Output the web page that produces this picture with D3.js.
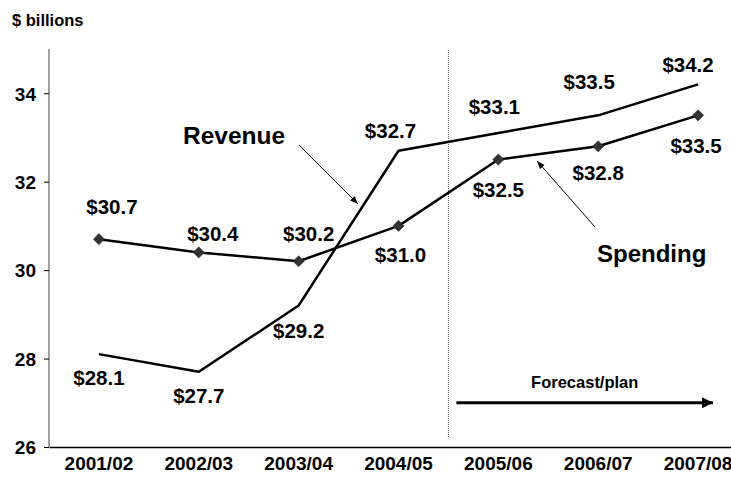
<!DOCTYPE html>
<html>
<head>
<meta charset="utf-8">
<script src="https://cdn.jsdelivr.net/npm/d3@7"></script>
<style>
  html, body { margin: 0; padding: 0; background: #fff; overflow: hidden; }
  svg { display: block; }
  svg text { font-family: "Liberation Sans", Arial, sans-serif; font-weight: bold; fill: #000; }
</style>
</head>
<body>
<div id="chart"></div>
<script>
// Data
const years = ['2001/02', '2002/03', '2003/04', '2004/05', '2005/06', '2006/07', '2007/08'];
const revenue = [28.1, 27.7, 29.2, 32.7, 33.1, 33.5, 34.2];
const spending = [30.7, 30.4, 30.2, 31.0, 32.5, 32.8, 33.5];
const yTicks = [26, 28, 30, 32, 34];
const forecastStart = '2005/06';

// Label nudges (px) relative to each point, as placed in the original
const revenueLabelOffset = [[0, 23], [0, 24], [0, 25], [-8, -20], [-4, -26], [-9, -34], [-10, -20]];
const spendingLabelOffset = [[13, -33], [14, -19], [10, -28], [2, 29], [0, 30], [0, 26], [-2, 30]];

const width = 731, height = 478;
const margin = { top: 49, right: -17, bottom: 31, left: 49 };
const innerWidth = width - margin.left - margin.right;
const innerHeight = height - margin.top - margin.bottom;

const svg = d3.select('#chart').append('svg')
    .attr('width', width)
    .attr('height', height);

svg.append('defs').call(defs => {
    defs.append('marker')
        .attr('id', 'thin-arrow')
        .attr('viewBox', '0 0 10 10')
        .attr('refX', 10).attr('refY', 5)
        .attr('markerWidth', 8).attr('markerHeight', 8)
        .attr('markerUnits', 'userSpaceOnUse')
        .attr('orient', 'auto')
        .append('path')
        .attr('d', 'M0,1 L10,5 L0,9 z')
        .attr('fill', '#000');
    defs.append('marker')
        .attr('id', 'thick-arrow')
        .attr('viewBox', '0 0 10 10')
        .attr('refX', 10).attr('refY', 5)
        .attr('markerWidth', 11).attr('markerHeight', 11)
        .attr('markerUnits', 'userSpaceOnUse')
        .attr('orient', 'auto')
        .append('path')
        .attr('d', 'M0,0 L10,5 L0,10 z')
        .attr('fill', '#000');
});

const g = svg.append('g').attr('transform', `translate(${margin.left},${margin.top})`);

// Scales
const x = d3.scaleBand().domain(years).range([0, innerWidth]).padding(0);
const cx = d => x(d) + x.bandwidth() / 2;
const y = d3.scaleLinear().domain([26, 35]).range([innerHeight, 0]);

// Y axis
g.append('g')
    .call(d3.axisLeft(y).tickValues(yTicks).tickSize(5).tickPadding(8).tickFormat(d3.format('d')))
    .attr('font-size', null).attr('font-family', null)
    .call(a => a.select('.domain').attr('d', `M0,0V${innerHeight}`).attr('stroke', '#444'))
    .call(a => a.selectAll('line').attr('stroke', '#000'))
    .call(a => a.selectAll('text').attr('font-size', 19).attr('dy', '0.36em'));

// X axis
g.append('g')
    .attr('transform', `translate(0,${innerHeight})`)
    .call(d3.axisBottom(x).tickSize(0).tickPadding(10))
    .attr('font-size', null).attr('font-family', null)
    .call(a => a.select('.domain').attr('stroke', '#000').attr('stroke-width', 1.5))
    .call(a => a.selectAll('text').attr('font-size', 19));

// Units label
svg.append('text')
    .attr('x', 12).attr('y', 26)
    .attr('font-size', 16.5)
    .text('$ billions');

// Forecast divider
const divX = x(forecastStart);
g.append('line')
    .attr('x1', divX).attr('x2', divX)
    .attr('y1', 1).attr('y2', innerHeight - 9)
    .attr('stroke', '#666')
    .attr('stroke-width', 1)
    .attr('stroke-dasharray', '1,1');

// Forecast arrow
const fy = y(27.0);
g.append('line')
    .attr('x1', divX + 8).attr('x2', cx(years[6]) + 15)
    .attr('y1', fy).attr('y2', fy)
    .attr('stroke', '#000')
    .attr('stroke-width', 3)
    .attr('marker-end', 'url(#thick-arrow)');
g.append('text')
    .attr('x', (divX + 8 + cx(years[6]) + 15) / 2)
    .attr('y', fy - 15)
    .attr('text-anchor', 'middle')
    .attr('font-size', 16.5)
    .text('Forecast/plan');

// Lines
const line = d3.line().x((d, i) => cx(years[i])).y(d => y(d));

g.append('path')
    .datum(revenue)
    .attr('d', line)
    .attr('fill', 'none')
    .attr('stroke', '#000')
    .attr('stroke-width', 2.5)
    .attr('stroke-linejoin', 'round');

g.append('path')
    .datum(spending)
    .attr('d', line)
    .attr('fill', 'none')
    .attr('stroke', '#000')
    .attr('stroke-width', 2.5)
    .attr('stroke-linejoin', 'round');

// Spending markers
g.selectAll('path.diamond')
    .data(spending)
    .join('path')
    .attr('class', 'diamond')
    .attr('d', d3.symbol(d3.symbolDiamond2, 80))
    .attr('transform', (d, i) => `translate(${cx(years[i])},${y(d)})`)
    .attr('fill', '#333')
    .attr('stroke', '#222')
    .attr('stroke-width', 0.5);

// Value labels
const fmt = d => '$' + d.toFixed(1);
function addLabels(values, offsets) {
    g.append('g').selectAll('text')
        .data(values)
        .join('text')
        .attr('x', (d, i) => cx(years[i]) + offsets[i][0])
        .attr('y', (d, i) => y(d) + offsets[i][1])
        .attr('dy', '0.36em')
        .attr('text-anchor', 'middle')
        .attr('font-size', 20.5)
        .text(fmt);
}
addLabels(revenue, revenueLabelOffset);
addLabels(spending, spendingLabelOffset);

// Series callouts
g.append('text')
    .attr('x', 183 - margin.left).attr('y', 144 - margin.top)
    .attr('font-size', 24.5)
    .text('Revenue');
g.append('line')
    .attr('x1', 299 - margin.left).attr('y1', 145 - margin.top)
    .attr('x2', 358 - margin.left).attr('y2', 204 - margin.top)
    .attr('stroke', '#000').attr('stroke-width', 1)
    .attr('marker-end', 'url(#thin-arrow)');

g.append('text')
    .attr('x', 597 - margin.left).attr('y', 262 - margin.top)
    .attr('font-size', 24)
    .text('Spending');
g.append('line')
    .attr('x1', 595 - margin.left).attr('y1', 227 - margin.top)
    .attr('x2', 537 - margin.left).attr('y2', 161 - margin.top)
    .attr('stroke', '#000').attr('stroke-width', 1)
    .attr('marker-end', 'url(#thin-arrow)');
</script>
</body>
</html>
